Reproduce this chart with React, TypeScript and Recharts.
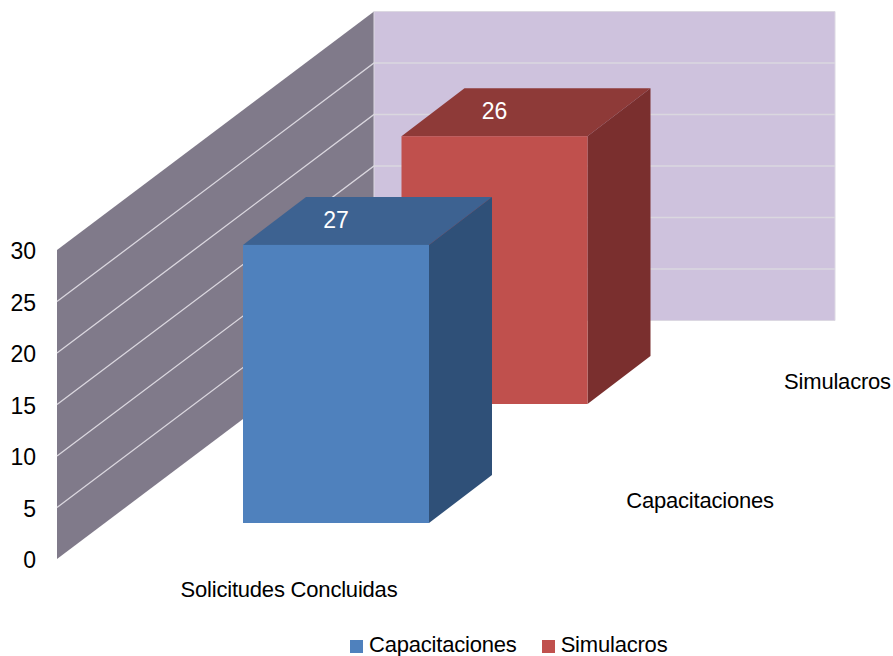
import React from 'react';
import { BarChart, Bar, XAxis, YAxis, ReferenceArea, ReferenceLine, Legend } from 'recharts';

const categories = ['Solicitudes Concluidas'];
const capacitaciones = [27];
const simulacros = [26];
const yTicks = [0, 5, 10, 15, 20, 25, 30];
const gridTicks = [5, 10, 15, 20, 25];

const data = categories.map((name, i) => ({
  name,
  Capacitaciones: capacitaciones[i],
  Simulacros: simulacros[i],
}));

const FONT = '"Liberation Sans", Arial, sans-serif';
const SPACING = -0.2;

// oblique projection of the depth axis
const WALL_DX = 317;
const WALL_DY = -238.5;
const WALL_W = 461;
const BAR_DX = 63;
const BAR_DY = -48;

const polygon = (pts: number[][]) => pts.map((p) => p.join(',')).join(' ');

const Walls = ({ x, y, height }: any) => (
  <g>
    <polygon
      points={polygon([
        [x, y],
        [x + WALL_DX, y + WALL_DY],
        [x + WALL_DX, y + height + WALL_DY],
        [x, y + height],
      ])}
      fill='#807A8A'
    />
    <polygon
      points={polygon([
        [x + WALL_DX, y + WALL_DY],
        [x + WALL_DX + WALL_W, y + WALL_DY],
        [x + WALL_DX + WALL_W, y + height + WALL_DY],
        [x + WALL_DX, y + height + WALL_DY],
      ])}
      fill='#CEC2DD'
      stroke='#DCD8E2'
      strokeWidth={1}
    />
  </g>
);

const GridLine = ({ x1, y1 }: any) => (
  <polyline
    points={polygon([
      [x1, y1],
      [x1 + WALL_DX, y1 + WALL_DY],
      [x1 + WALL_DX + WALL_W, y1 + WALL_DY],
    ])}
    fill='none'
    stroke='#DAD7DF'
    strokeWidth={1.3}
  />
);

// one 3D box; offX/offY place the series along the depth axis
const box = (colors: string[], label: string, offX: number, offY: number, labelDx: number) =>
  ({ x, y, width, height, value }: any) => {
    const l = x + offX;
    const t = y + offY;
    const r = l + width;
    const b = t + height;
    return (
      <g>
        <polygon
          points={polygon([[l, t], [r, t], [r + BAR_DX, t + BAR_DY], [l + BAR_DX, t + BAR_DY]])}
          fill={colors[1]}
        />
        <polygon
          points={polygon([[r, t], [r + BAR_DX, t + BAR_DY], [r + BAR_DX, b + BAR_DY], [r, b]])}
          fill={colors[2]}
        />
        <rect x={l} y={t} width={width} height={height} fill={colors[0]} />
        <text x={l + width / 2} y={t - 17} textAnchor='middle' fill='#fff' fontSize={23} fontFamily={FONT}>
          {value}
        </text>
        <text
          x={r + labelDx}
          y={b - 15}
          textAnchor='middle'
          fill='#000'
          fontSize={22}
          letterSpacing={SPACING}
          fontFamily={FONT}
        >
          {label}
        </text>
      </g>
    );
  };

const CategoryTick = ({ x, y, payload }: any) => (
  <text x={x - 47} y={y + 30} textAnchor='middle' fill='#000' fontSize={22} letterSpacing={SPACING} fontFamily={FONT}>
    {payload.value}
  </text>
);

export default function App() {
  return (
    <div style={{ position: 'absolute', left: 0, top: 0 }}>
      <BarChart
        width={893}
        height={656}
        data={data}
        barSize={186}
        barGap={-186}
        margin={{ top: 250, right: 278, bottom: 0, left: 0 }}
      >
        <ReferenceArea y1={0} y2={30} shape={Walls} />
        {gridTicks.map((t) => (
          <ReferenceLine key={t} y={t} shape={GridLine} zIndex={150} />
        ))}
        <XAxis dataKey='name' axisLine={false} tickLine={false} height={67} tick={CategoryTick} />
        <YAxis
          domain={[0, 30]}
          ticks={yTicks}
          width={57}
          axisLine={false}
          tickLine={false}
          tickSize={0}
          tickMargin={21}
          tick={{ fill: '#000', fontSize: 23, fontFamily: FONT, dy: 1 }}
        />
        <Bar
          dataKey='Simulacros'
          fill='#C0504D'
          isAnimationActive={false}
          shape={box(['#C0504D', '#8E3A38', '#7A2F2E'], 'Simulacros', 158.5, -155, 250)}
        />
        <Bar
          dataKey='Capacitaciones'
          fill='#4F81BD'
          isAnimationActive={false}
          shape={box(['#4F81BD', '#3D6291', '#2F5078'], 'Capacitaciones', 0, -36, 271)}
        />
        <Legend
          height={30}
          align='left'
          iconType='square'
          iconSize={13}
          wrapperStyle={{ top: 632, left: 350, width: 400, bottom: 'auto', fontFamily: FONT, fontSize: 22 }}
          formatter={(value: string) => (
            <span style={{ color: '#000', letterSpacing: SPACING, marginLeft: 2, marginRight: 15 }}>{value}</span>
          )}
        />
      </BarChart>
    </div>
  );
}
